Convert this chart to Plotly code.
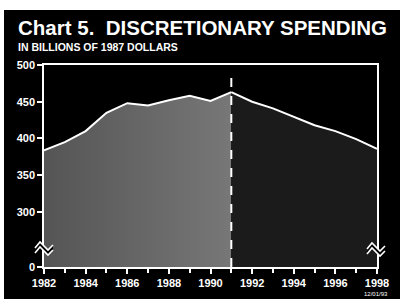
import plotly.graph_objects as go

years = list(range(1982, 1999))
spending = [384, 395, 410, 435, 448, 445, 452, 458, 451, 463,
            450, 441, 430, 418, 410, 399, 386]
split_year = 1991
y_ticks = [225, 300, 350, 400, 450, 500]
y_tick_labels = ["0", "300", "350", "400", "450", "500"]
x_ticks = [1982, 1984, 1986, 1988, 1990, 1992, 1994, 1996, 1998]

W, H = 400, 306
L, R, T, B = 44, 23, 65, 39
PW, PH = W - L - R, H - T - B

def px(x):
    return (x - L) / PW

def py(y):
    return (H - B - y) / PH

i = years.index(split_year)
hist_x, hist_y = years[:i + 1], spending[:i + 1]
proj_x, proj_y = years[i:], spending[i:]

fig = go.Figure()
fig.add_trace(go.Scatter(
    x=hist_x, y=hist_y, mode="lines", fill="tozeroy",
    line=dict(color="white", width=2),
    fillgradient=dict(type="horizontal",
                      colorscale=[[0, "#555555"], [1, "#777777"]]),
    hoverinfo="skip", showlegend=False))
fig.add_trace(go.Scatter(
    x=proj_x, y=proj_y, mode="lines", fill="tozeroy",
    line=dict(color="white", width=2), fillcolor="#1b1b1b",
    hoverinfo="skip", showlegend=False))

shapes = [
    dict(type="rect", xref="paper", yref="paper", layer="below",
         x0=px(4), x1=px(401), y0=py(299), y1=py(10),
         fillcolor="black", line=dict(width=0)),
    dict(type="line", xref="x", yref="paper", x0=split_year, x1=split_year,
         y0=0, y1=py(72), line=dict(color="white", width=2, dash="dash")),
]

def zigzag(x0, y0):
    pts1 = [(x0, y0 + 6), (x0 + 5, y0), (x0 + 13, y0 + 8), (x0 + 18, y0 + 3)]
    pts2 = [(x, y + 5) for x, y in pts1]
    poly = pts1 + pts2[::-1]
    s = []
    s.append(dict(type="path", xref="paper", yref="paper",
                  path="M " + " L ".join(f"{px(a)},{py(b)}" for a, b in poly) + " Z",
                  fillcolor="black", line=dict(width=0)))
    for pts in (pts1, pts2):
        s.append(dict(type="path", xref="paper", yref="paper",
                      path="M " + " L ".join(f"{px(a)},{py(b)}" for a, b in pts),
                      line=dict(color="white", width=1.6)))
    return s

shapes += zigzag(35, 242)
shapes += zigzag(367, 243)

font = "Liberation Sans, Arial, sans-serif"
annotations = [
    dict(text="<b>Chart 5.  DISCRETIONARY SPENDING</b>", xref="paper", yref="paper",
         x=px(16), y=py(27), xanchor="left", yanchor="middle", showarrow=False,
         font=dict(family=font, size=20.5, color="white")),
    dict(text="<b>IN BILLIONS OF 1987 DOLLARS</b>", xref="paper", yref="paper",
         x=px(16), y=py(47.5), xanchor="left", yanchor="middle", showarrow=False,
         font=dict(family=font, size=10.5, color="white")),
    dict(text="12/01/93", xref="paper", yref="paper",
         x=px(390), y=py(294), xanchor="right", yanchor="middle", showarrow=False,
         font=dict(family=font, size=6, color="white")),
]

fig.update_layout(
    width=W, height=H, margin=dict(l=L, r=R, t=T, b=B, pad=0),
    paper_bgcolor="white", plot_bgcolor="black",
    shapes=shapes, annotations=annotations, showlegend=False,
    xaxis=dict(range=[1982, 1998], tickvals=x_ticks, showgrid=False, zeroline=False,
               showline=True, linecolor="white", linewidth=1.5, mirror=True,
               ticks="outside", ticklen=5, tickcolor="white", tickwidth=1.5,
               minor=dict(dtick=1, tick0=1982, ticks="outside", ticklen=4,
                          tickcolor="white", tickwidth=1.5),
               tickfont=dict(family=font, size=11, color="white", weight="bold")),
    yaxis=dict(range=[225, 500], tickvals=y_ticks, ticktext=y_tick_labels,
               showgrid=False, zeroline=False,
               showline=True, linecolor="white", linewidth=1.5, mirror=True,
               ticks="outside", ticklen=5, tickcolor="white", tickwidth=1.5,
               tickfont=dict(family=font, size=11, color="white", weight="bold")),
)

fig.write_html("out.html")
